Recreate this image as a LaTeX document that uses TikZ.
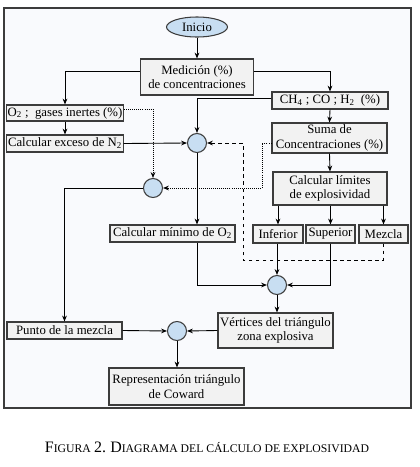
\documentclass[tikz,border=0pt]{standalone}
\usepackage{fontspec}
\setmainfont{Liberation Serif}
\usetikzlibrary{arrows.meta,shapes.geometric}
\definecolor{framegray}{RGB}{60,60,60}
\definecolor{boxgray}{RGB}{242,242,242}
\definecolor{junctionblue}{RGB}{200,222,242}
\definecolor{pagetint}{RGB}{249,250,253}
\newcommand{\capsc}[2]{{\fontsize{13.6}{15}\selectfont #1}{\fontsize{10}{12}\selectfont #2}}
\begin{document}
\begin{tikzpicture}[x=0.03cm,y=-0.03cm,
font=\fontsize{10.9}{12.4}\selectfont,
stepbox/.style={draw=framegray,fill=boxgray,line width=0.9pt,inner sep=1pt,align=center},
junction/.style={circle,draw=framegray,fill=junctionblue,line width=0.9pt,minimum size=0.57cm,inner sep=0pt},
flow/.style={line width=0.75pt,-{Stealth[length=5pt,width=4pt]}},]
\useasboundingbox (0,0) rectangle (420,467);
\draw[framegray,line width=1.3pt,fill=pagetint] (4,8) rectangle (411,408);

\node[ellipse,draw=framegray,fill=junctionblue,line width=0.9pt,minimum width=1.83cm,minimum height=0.6cm,inner sep=0pt] (inicio) at (197,27) {Inicio};
\node[stepbox,minimum width=3.39cm,minimum height=1.08cm] (medicion) at (197,77) {Medición (\%)\\de concentraciones};
\node[stepbox,minimum width=3.48cm,minimum height=0.48cm] (gases) at (65,113) {O\textsubscript{2} ;\ \ gases inertes (\%)};
\node[stepbox,minimum width=3.48cm,minimum height=0.51cm] (combust) at (330,100.5) {CH\textsubscript{4} ; CO ; H\textsubscript{2}\ \ (\%)};
\node[stepbox,minimum width=3.48cm,minimum height=0.51cm] (exceso) at (65,143.5) {Calcular exceso de N\textsubscript{2}};
\node[stepbox,minimum width=3.45cm,minimum height=0.9cm] (suma) at (329.5,138) {Suma de\\Concentraciones (\%)};
\node[stepbox,minimum width=3.42cm,minimum height=0.99cm] (limites) at (330,188.5) {Calcular límites\\de explosividad};
\node[stepbox,minimum width=1.5cm,minimum height=0.54cm] (inferior) at (278,234) {Inferior};
\node[stepbox,minimum width=1.47cm,minimum height=0.54cm] (superior) at (330.5,234) {Superior};
\node[stepbox,minimum width=1.47cm,minimum height=0.54cm] (mezcla) at (383.5,234) {Mezcla};
\node[stepbox,minimum width=3.75cm,minimum height=0.51cm] (minimo) at (172.5,233.5) {Calcular mínimo de O\textsubscript{2}};
\node[stepbox,minimum width=3.45cm,minimum height=1.05cm] (vertices) at (275.5,330.5) {Vértices del triángulo\\zona explosiva};
\node[stepbox,minimum width=3.45cm,minimum height=0.51cm] (punto) at (64.5,330.5) {Punto de la mezcla};
\node[stepbox,minimum width=4.05cm,minimum height=1.11cm] (coward) at (176.5,386.5) {Representación triángulo\\de Coward};

\node[junction] (j1) at (197,143) {};
\node[junction] (j2) at (153,188) {};
\node[junction] (j3) at (277,285) {};
\node[junction] (j4) at (177,331) {};

\coordinate (dashturn) at (243,260);
\coordinate (dotturn) at (262,188);

\draw[flow] (inicio.south) -- (medicion.north);
\draw[flow] ([yshift=0.18cm]medicion.west) -| (gases.north);
\draw[flow] ([yshift=0.18cm]medicion.east) -| (combust.north);
\draw[flow] (gases.south) -- (exceso.north);
\draw[flow] (exceso.east) -- (j1.west);
\draw[flow] ([yshift=0.06cm]combust.west) -| (j1.north);
\draw[flow] (combust.south) -- (suma.north);
\draw[flow] (suma.south) -- (limites.north);
\draw[flow] (limites.south -| inferior.north) -- (inferior.north);
\draw[flow] (limites.south -| superior.north) -- (superior.north);
\draw[flow] (limites.south -| mezcla.north) -- (mezcla.north);
\draw[flow] (j1.south) -- (j1.south |- minimo.north);
\draw[flow] (j1.south |- minimo.south) |- (j3.west);
\draw[flow] (inferior.south -| j3.north) -- (j3.north);
\draw[flow] (superior.south) |- (j3.east);
\draw[flow] (j3.south) -- (j3.south |- vertices.north);
\draw[flow,dashed] (mezcla.south) |- (dashturn) |- (j1.east);
\draw[flow,densely dotted] ([yshift=0.12cm]gases.east) -| (j2.north);
\draw[flow,densely dotted] ([yshift=-0.15cm]suma.west) -| (dotturn) -- (j2.east);
\draw[flow] (j2.west) -| (punto.north);
\draw[flow] (punto.east) -- (j4.west);
\draw[flow] (vertices.west) -- (j4.east);
\draw[flow] (j4.south) -- (j4.south |- coward.north);

\node (caption) at (207,447) {\capsc{F}{IGURA} \capsc{2.}{} \capsc{D}{IAGRAMA DEL CÁLCULO DE EXPLOSIVIDAD}};
\end{tikzpicture}
\end{document}
